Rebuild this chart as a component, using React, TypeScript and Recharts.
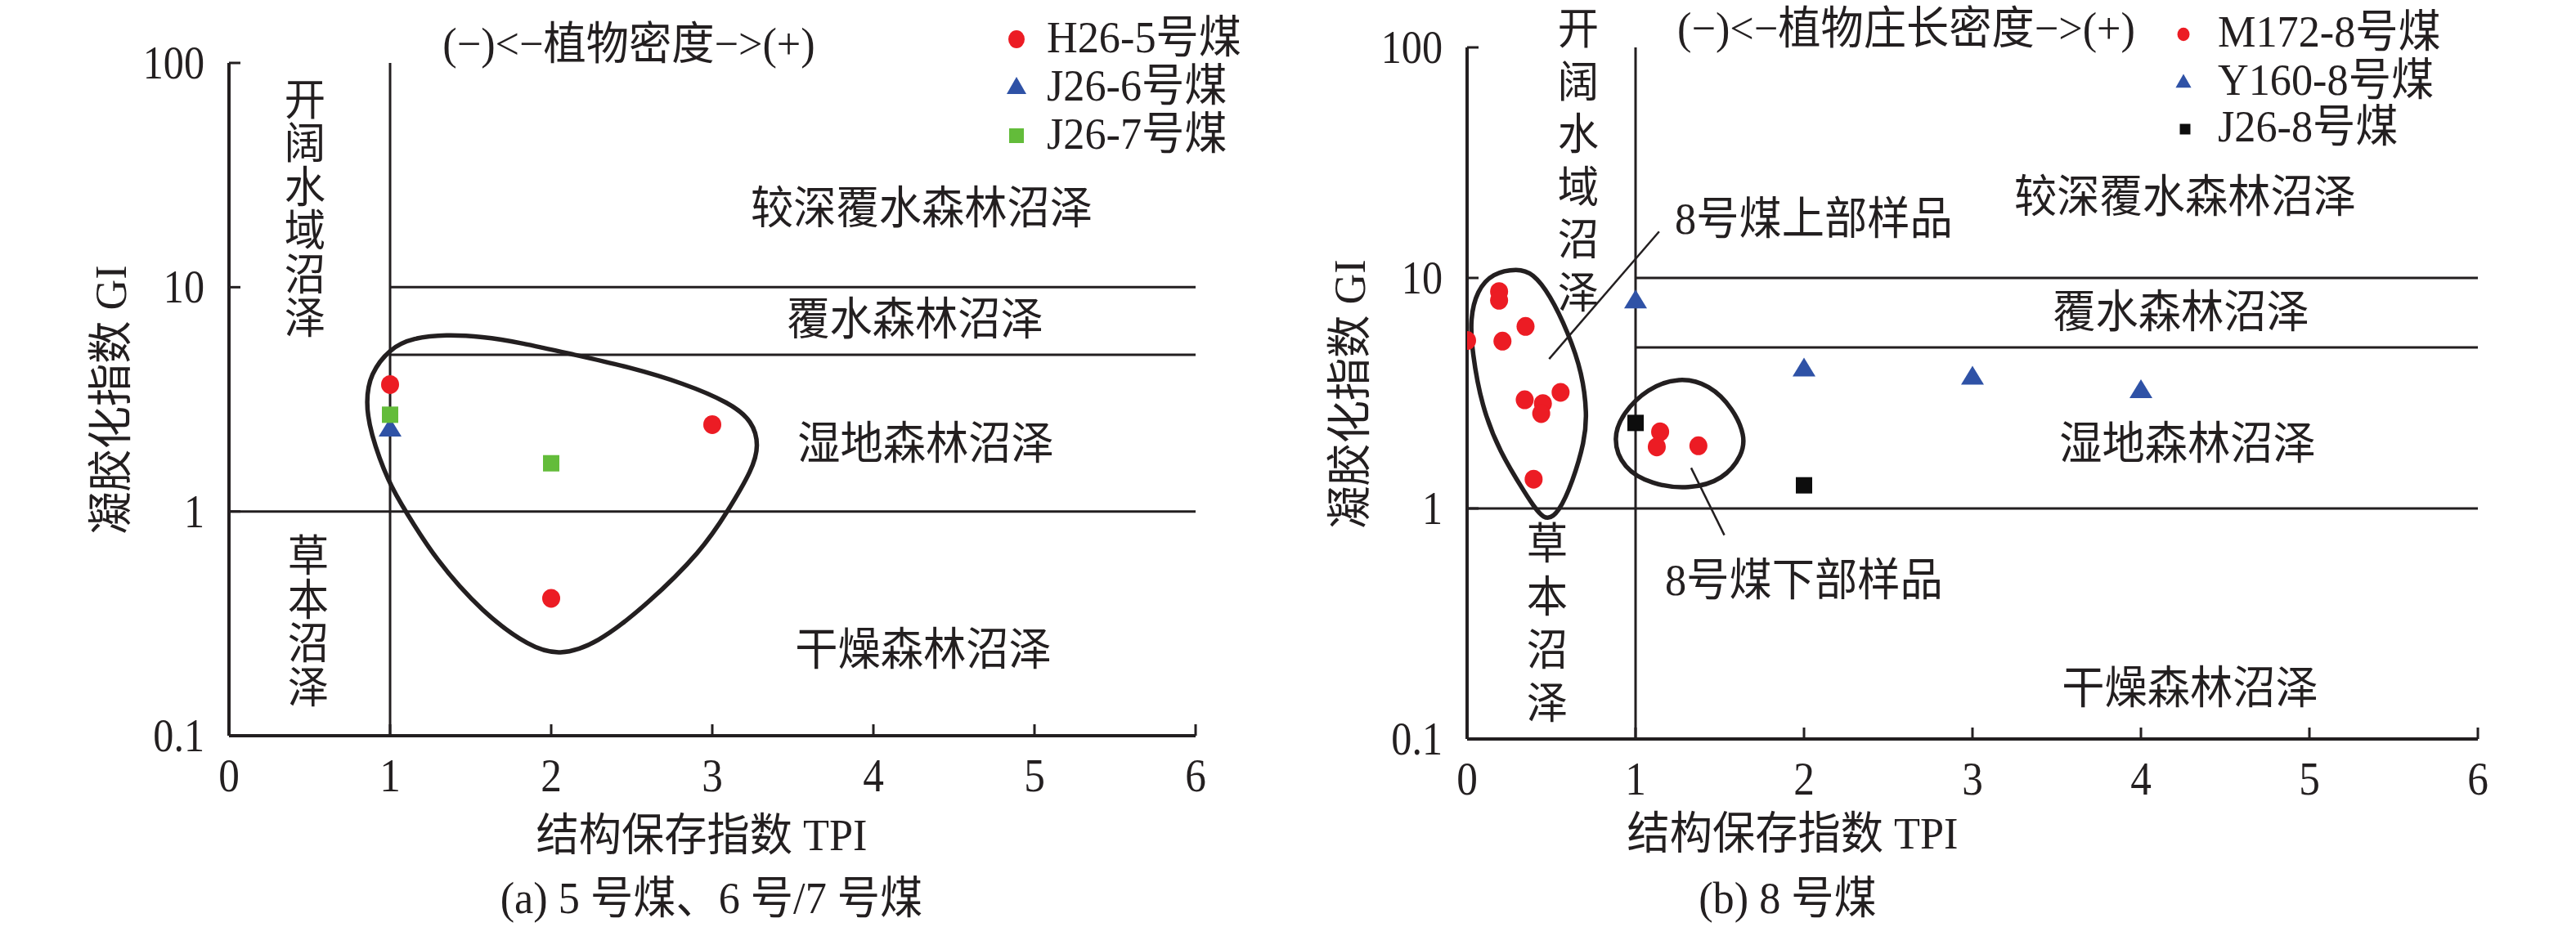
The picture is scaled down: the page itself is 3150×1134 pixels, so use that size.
import React from "react";
import { ScatterChart, Scatter, XAxis, YAxis, ReferenceLine } from "recharts";

const TEXT = "#231f20";
const RED = "#ec1c24";
const BLUE = "#2f52a6";
const GREEN = "#63bc3a";
const BLACK = "#0d0d0d";
const FONT = '"Liberation Serif", "Times New Roman", "Noto Sans CJK SC", serif';

const xTicks = [0, 1, 2, 3, 4, 5, 6];
const yTicks = [0.1, 1, 10, 100];

// (a) 5号煤、6号/7号煤
const h26_5 = [
  { x: 1, y: 3.68 },
  { x: 3, y: 2.44 },
  { x: 2, y: 0.41 },
];
const j26_6 = [{ x: 1, y: 2.33 }];
const j26_7 = [
  { x: 1, y: 2.7 },
  { x: 2, y: 1.64 },
];
const loopA = [
  { x: 1.347, y: 6.15 },
  { x: 1.574, y: 6.02 },
  { x: 1.801, y: 5.68 },
  { x: 2.142, y: 5.0 },
  { x: 2.482, y: 4.41 },
  { x: 2.823, y: 3.73 },
  { x: 3.11, y: 3.05 },
  { x: 3.25, y: 2.53 },
  { x: 3.29, y: 1.97 },
  { x: 3.25, y: 1.54 },
  { x: 3.095, y: 1.0 },
  { x: 2.936, y: 0.669 },
  { x: 2.596, y: 0.384 },
  { x: 2.278, y: 0.255 },
  { x: 2.05, y: 0.228 },
  { x: 1.869, y: 0.248 },
  { x: 1.574, y: 0.353 },
  { x: 1.279, y: 0.615 },
  { x: 1.097, y: 1.0 },
  { x: 0.99, y: 1.34 },
  { x: 0.875, y: 2.27 },
  { x: 0.85, y: 3.08 },
  { x: 0.875, y: 4.1 },
  { x: 1.0, y: 5.35 },
  { x: 1.143, y: 5.95 },
];

// (b) 8号煤
const m172_8 = [
  { x: 0.0, y: 5.35 },
  { x: 0.19, y: 8.73 },
  { x: 0.19, y: 8.0 },
  { x: 0.21, y: 5.32 },
  { x: 0.347, y: 6.16 },
  { x: 0.342, y: 2.96 },
  { x: 0.555, y: 3.19 },
  { x: 0.45, y: 2.85 },
  { x: 0.44, y: 2.58 },
  { x: 0.395, y: 1.34 },
  { x: 1.146, y: 2.15 },
  { x: 1.126, y: 1.85 },
  { x: 1.373, y: 1.87 },
];
const y160_8 = [
  { x: 1, y: 7.94 },
  { x: 2, y: 4.02 },
  { x: 3, y: 3.71 },
  { x: 4, y: 3.24 },
];
const j26_8 = [
  { x: 1, y: 2.35 },
  { x: 2, y: 1.26 },
];
const loopUpper = [
  { x: 0.3, y: 11.0 },
  { x: 0.39, y: 10.5 },
  { x: 0.49, y: 8.5 },
  { x: 0.6, y: 5.8 },
  { x: 0.684, y: 3.86 },
  { x: 0.712, y: 2.57 },
  { x: 0.698, y: 1.96 },
  { x: 0.626, y: 1.3 },
  { x: 0.545, y: 0.96 },
  { x: 0.46, y: 0.86 },
  { x: 0.34, y: 1.18 },
  { x: 0.195, y: 1.75 },
  { x: 0.085, y: 2.79 },
  { x: 0.03, y: 4.8 },
  { x: 0.018, y: 6.65 },
  { x: 0.058, y: 8.8 },
  { x: 0.15, y: 10.5 },
];
const loopLower = [
  { x: 1.258, y: 3.72 },
  { x: 1.44, y: 3.45 },
  { x: 1.58, y: 2.71 },
  { x: 1.65, y: 2.07 },
  { x: 1.636, y: 1.71 },
  { x: 1.522, y: 1.33 },
  { x: 1.317, y: 1.21 },
  { x: 1.095, y: 1.27 },
  { x: 0.925, y: 1.49 },
  { x: 0.862, y: 2.01 },
  { x: 0.925, y: 2.6 },
  { x: 1.07, y: 3.32 },
];
const leaderUpper = [
  { x: 0.487, y: 4.45 },
  { x: 1.14, y: 15.9 },
];
const leaderLower = [
  { x: 1.33, y: 1.5 },
  { x: 1.527, y: 0.766 },
];

const Circle = (p: any) => <ellipse cx={p.cx} cy={p.cy} rx={11} ry={11.5} fill={RED} />;
const Tri = (p: any) => (
  <path d={`M${p.cx},${p.cy - 14} L${p.cx + 14},${p.cy + 9} L${p.cx - 14},${p.cy + 9} Z`} fill={BLUE} />
);
const Sq = (color: string) => (p: any) => (
  <rect x={p.cx - 10} y={p.cy - 10} width={20} height={20} fill={color} />
);
const NoDot = () => <g />;

// condensed serif look: tall glyphs, narrowed horizontally
const XTick = (p: any) => (
  <g>
    <line x1={p.x} y1={p.y} x2={p.x} y2={p.y - 14} stroke={TEXT} strokeWidth={3} />
    <text
      transform={`translate(${p.x},${p.y + 68}) scale(0.9,1)`}
      textAnchor="middle"
      fontSize={57}
      fontFamily={FONT}
      fill={TEXT}
    >
      {p.payload.value}
    </text>
  </g>
);
const YTick = (p: any) => (
  <g>
    <line x1={p.x} y1={p.y} x2={p.x + 14} y2={p.y} stroke={TEXT} strokeWidth={3} />
    <text
      transform={`translate(${p.x - 30},${p.y + 19}) scale(0.88,1)`}
      textAnchor="end"
      fontSize={57}
      fontFamily={FONT}
      fill={TEXT}
    >
      {p.payload.value}
    </text>
  </g>
);

const loopLine = { stroke: TEXT, strokeWidth: 5.5, fill: "none" };
const gridLine = { stroke: TEXT, strokeWidth: 3 };

function Txt({ x, y, size = 55, anchor = "middle", children }: any) {
  const tx = anchor === "middle" ? "-50%" : "0";
  return (
    <div
      style={{
        position: "absolute",
        left: x,
        top: y,
        transform: `translate(${tx}, -50%) scaleX(0.95)`,
        transformOrigin: anchor === "middle" ? "50% 50%" : "0 50%",
        fontSize: size,
        lineHeight: 1,
        whiteSpace: "nowrap",
      }}
    >
      {children}
    </div>
  );
}

function VText({ x, y0, step, text, size = 53 }: any) {
  return (
    <>
      {Array.from(text as string).map((ch, i) => (
        <Txt key={i} x={x} y={y0 + i * step} size={size}>
          {ch}
        </Txt>
      ))}
    </>
  );
}

function LegendMark({ kind, color, x, y, s = 1 }: any) {
  const w = 30;
  return (
    <svg
      width={w}
      height={w}
      style={{ position: "absolute", left: x - w / 2, top: y - w / 2 }}
      viewBox={`${-w / 2} ${-w / 2} ${w} ${w}`}
    >
      {kind === "circle" && <ellipse cx={0} cy={0} rx={10 * s} ry={11 * s} fill={color} />}
      {kind === "tri" && <path d={`M0,${-12 * s} L${12 * s},${9 * s} L${-12 * s},${9 * s} Z`} fill={color} />}
      {kind === "sq" && <rect x={-9 * s} y={-9 * s} width={18 * s} height={18 * s} fill={color} />}
    </svg>
  );
}

function YTitle({ x, y }: any) {
  return (
    <div
      style={{
        position: "absolute",
        left: x,
        top: y,
        transform: "translate(-50%, -50%) rotate(-90deg) scaleX(0.95)",
        fontSize: 55,
        lineHeight: 1,
        whiteSpace: "nowrap",
      }}
    >
      凝胶化指数 GI
    </div>
  );
}

function Frame({ width, margin, children }: any) {
  return (
    <ScatterChart width={width} height={1134} margin={margin}>
      <XAxis
        type="number"
        dataKey="x"
        domain={[0, 6]}
        ticks={xTicks}
        interval={0}
        allowDataOverflow
        height={60}
        tickSize={0}
        tickMargin={0}
        tickLine={false}
        axisLine={{ stroke: TEXT, strokeWidth: 4 }}
        tick={XTick}
      />
      <YAxis
        type="number"
        dataKey="y"
        scale="log"
        domain={[0.1, 100]}
        ticks={yTicks}
        interval={0}
        allowDataOverflow
        width={80}
        tickSize={0}
        tickMargin={0}
        tickLine={false}
        axisLine={{ stroke: TEXT, strokeWidth: 4 }}
        tick={YTick}
      />
      <ReferenceLine x={1} {...gridLine} />
      <ReferenceLine y={1} {...gridLine} />
      <ReferenceLine segment={[{ x: 1, y: 10 }, { x: 6, y: 10 }]} {...gridLine} />
      <ReferenceLine segment={[{ x: 1, y: 5 }, { x: 6, y: 5 }]} {...gridLine} />
      {children}
    </ScatterChart>
  );
}

export default function App() {
  return (
    <div
      style={{
        position: "absolute",
        left: 0,
        top: 0,
        width: 3150,
        height: 1134,
        background: "#fff",
        fontFamily: FONT,
        color: TEXT,
        overflow: "hidden",
      }}
    >
      <div style={{ position: "absolute", left: 0, top: 0 }}>
        <Frame width={1575} margin={{ top: 77, right: 113, left: 200, bottom: 174 }}>
          <Scatter data={loopA} line={loopLine} lineJointType="basisClosed" shape={NoDot} isAnimationActive={false} />
          <Scatter data={h26_5} shape={Circle} isAnimationActive={false} />
          <Scatter data={j26_6} shape={Tri} isAnimationActive={false} />
          <Scatter data={j26_7} shape={Sq(GREEN)} isAnimationActive={false} />
        </Frame>
      </div>
      <div style={{ position: "absolute", left: 1575, top: 0 }}>
        <Frame width={1575} margin={{ top: 58, right: 120, left: 139, bottom: 170 }}>
          <ReferenceLine segment={leaderUpper} stroke={TEXT} strokeWidth={2.5} />
          <ReferenceLine segment={leaderLower} stroke={TEXT} strokeWidth={2.5} />
          <Scatter data={loopUpper} line={loopLine} lineJointType="basisClosed" shape={NoDot} isAnimationActive={false} />
          <Scatter data={loopLower} line={loopLine} lineJointType="basisClosed" shape={NoDot} isAnimationActive={false} />
          <Scatter data={m172_8} shape={Circle} isAnimationActive={false} />
          <Scatter data={y160_8} shape={Tri} isAnimationActive={false} />
          <Scatter data={j26_8} shape={Sq(BLACK)} isAnimationActive={false} />
        </Frame>
      </div>

      {/* panel (a) texts */}
      <Txt x={769} y={53}>(−)&lt;−植物密度−&gt;(+)</Txt>
      <Txt x={1127} y={254}>较深覆水森林沼泽</Txt>
      <Txt x={1119} y={390}>覆水森林沼泽</Txt>
      <Txt x={1132} y={542}>湿地森林沼泽</Txt>
      <Txt x={1129} y={794}>干燥森林沼泽</Txt>
      <VText x={373} y0={123} step={53.4} text="开阔水域沼泽" />
      <VText x={377} y0={681} step={53.7} text="草本沼泽" />
      <LegendMark kind="circle" color={RED} x={1243} y={48} />
      <LegendMark kind="tri" color={BLUE} x={1243} y={106} />
      <LegendMark kind="sq" color={GREEN} x={1243} y={166} />
      <Txt x={1280} y={45} anchor="start">H26-5号煤</Txt>
      <Txt x={1280} y={104} anchor="start">J26-6号煤</Txt>
      <Txt x={1280} y={163} anchor="start">J26-7号煤</Txt>
      <YTitle x={135} y={489} />
      <Txt x={858} y={1021}>结构保存指数 TPI</Txt>
      <Txt x={870} y={1098}>(a) 5 号煤、6 号/7 号煤</Txt>

      {/* panel (b) texts */}
      <Txt x={2331} y={34}>(−)&lt;−植物庄长密度−&gt;(+)</Txt>
      <Txt x={2672} y={240}>较深覆水森林沼泽</Txt>
      <Txt x={2667} y={381}>覆水森林沼泽</Txt>
      <Txt x={2675} y={542}>湿地森林沼泽</Txt>
      <Txt x={2678} y={841}>干燥森林沼泽</Txt>
      <VText x={1930} y0={36} step={64.6} text="开阔水域沼泽" />
      <VText x={1892} y0={666} step={65} text="草本沼泽" />
      <Txt x={2048} y={267} anchor="start">8号煤上部样品</Txt>
      <Txt x={2036} y={709} anchor="start">8号煤下部样品</Txt>
      <LegendMark kind="circle" color={RED} x={2670} y={42} s={0.75} />
      <LegendMark kind="tri" color={BLUE} x={2670} y={100} s={0.8} />
      <LegendMark kind="sq" color={BLACK} x={2672} y={158} s={0.72} />
      <Txt x={2712} y={38} anchor="start">M172-8号煤</Txt>
      <Txt x={2712} y={97} anchor="start">Y160-8号煤</Txt>
      <Txt x={2712} y={154} anchor="start">J26-8号煤</Txt>
      <YTitle x={1650} y={482} />
      <Txt x={2192} y={1019}>结构保存指数 TPI</Txt>
      <Txt x={2186} y={1098}>(b) 8 号煤</Txt>
    </div>
  );
}
